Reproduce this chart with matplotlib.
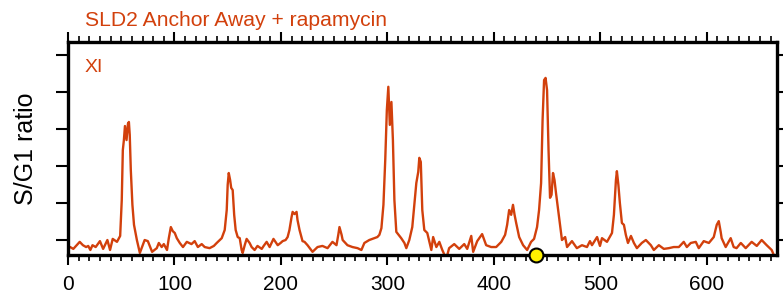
import matplotlib
matplotlib.use("Agg")
import matplotlib.pyplot as plt
from matplotlib.ticker import MultipleLocator

plt.rcParams['font.family'] = ['Liberation Sans', 'DejaVu Sans']

# S/G1 ratio along chromosome XI (position in kb)
pos_kb = [0, 2, 5, 7.5, 11, 14, 17, 19, 21, 23, 26, 30, 33, 37, 39.5, 42, 46, 49,
          50.5, 51.5, 52.5, 53.5, 55, 56.3, 57.2, 58, 59, 60.5, 62, 64.7, 67.5, 72,
          75, 79, 83.4, 85.3, 88, 90, 93, 94.7, 96.6, 98.4, 100.3, 102.2, 105, 108,
          111.6, 116, 119, 122, 125.6, 128.4, 133, 137, 139.7, 144.4, 147.2, 149.1,
          150, 151, 152.3, 153.3, 154.7, 156.1, 157.5, 159.4, 161.3, 163.1, 164.1,
          166, 167.8, 170.6, 172.5, 175.3, 178, 182, 183.8, 186.6, 189.4, 193, 197,
          199.7, 201.6, 204.4, 206.3, 208, 210, 211, 212.8, 214.7, 215.6, 217.5,
          220.3, 222.2, 225, 229.7, 234.4, 239, 243.8, 248.4, 252.2, 254, 255, 257,
          258, 262.5, 267.2, 272, 275.6, 278.4, 283, 287.8, 290.6, 292.5, 294.4,
          296.3, 298, 299.5, 300.9, 302.3, 303.8, 305.2, 306.6, 308.4, 311.3, 313,
          316, 317.8, 320.6, 323.4, 325.3, 327.2, 329, 330, 331.4, 332.8, 334.7,
          337.5, 341.3, 343, 346, 348.8, 351.6, 355.3, 358, 362.8, 367.5, 372.2, 375,
          378.8, 380.6, 384.4, 389, 392.8, 397.5, 402.2, 407, 410.6, 412.5, 414.4,
          416.3, 418, 419.5, 421, 423.8, 427.5, 431.3, 435, 437.8, 440.6, 442.5,
          444.4, 445.8, 447.2, 448.6, 450, 451.4, 452.8, 454.2, 455.6, 457, 458.4,
          459.8, 461.3, 464, 467, 468.8, 473.4, 478, 482.8, 487.5, 490.3, 492.2, 497,
          499.7, 501.6, 506.3, 511, 512.8, 514.7, 515.6, 517, 518.4, 520.3, 522.2,
          524, 526, 528.8, 531.6, 534.4, 539, 542.8, 547.5, 550.3, 555, 559.7, 564.4,
          569, 573.8, 578.4, 581.3, 585, 589.7, 592.5, 597.2, 602, 606.6, 609.4,
          611.3, 613.1, 614, 617.8, 622.5, 625.3, 628, 632, 636.6, 642.2, 647, 651.6,
          656.3, 661, 663.8]

ratio = [0.978, 0.981, 0.976, 0.984, 0.995, 0.986, 0.981, 0.984, 0.973, 0.986, 0.981,
         0.997, 0.976, 1.000, 0.973, 1.003, 0.995, 1.011, 1.108, 1.243, 1.270, 1.308,
         1.270, 1.314, 1.319, 1.284, 1.189, 1.095, 1.041, 1.000, 0.965, 1.000, 0.997,
         0.968, 0.978, 0.992, 0.981, 0.989, 0.973, 1.005, 1.035, 1.024, 1.019, 1.005,
         0.992, 0.981, 0.995, 0.989, 0.997, 0.981, 0.989, 0.981, 0.978, 0.984, 0.992,
         1.005, 1.027, 1.081, 1.149, 1.181, 1.162, 1.141, 1.135, 1.068, 1.027, 1.008,
         1.005, 0.973, 0.965, 0.986, 1.003, 0.992, 0.981, 0.973, 0.984, 0.976, 0.984,
         0.995, 0.981, 1.003, 0.986, 0.992, 0.997, 1.000, 1.008, 1.027, 1.062, 1.076,
         1.070, 1.076, 1.054, 1.027, 0.997, 0.995, 0.986, 0.968, 0.981, 0.984, 0.978,
         0.995, 0.986, 1.016, 1.035, 1.014, 1.000, 0.986, 0.981, 0.978, 0.973, 0.992,
         1.000, 1.005, 1.008, 1.014, 1.032, 1.095, 1.216, 1.351, 1.414, 1.311, 1.373,
         1.270, 1.108, 1.022, 1.011, 1.005, 0.992, 0.978, 1.000, 1.035, 1.095, 1.154,
         1.184, 1.222, 1.211, 1.081, 1.027, 1.019, 0.973, 1.008, 0.981, 0.995, 0.973,
         0.949, 0.978, 0.989, 0.976, 0.989, 0.976, 1.011, 0.968, 0.997, 1.016, 0.986,
         0.981, 0.981, 0.995, 1.014, 1.041, 1.081, 1.068, 1.095, 1.068, 1.046, 1.008,
         0.986, 0.973, 0.995, 1.003, 1.035, 1.081, 1.154, 1.324, 1.432, 1.438, 1.405,
         1.243, 1.114, 1.122, 1.181, 1.162, 1.127, 1.095, 1.062, 1.000, 1.008, 0.981,
         0.997, 0.978, 0.986, 0.981, 0.997, 0.986, 1.008, 0.984, 1.005, 0.995, 1.019,
         1.068, 1.162, 1.186, 1.149, 1.100, 1.046, 1.041, 1.014, 0.992, 1.011, 0.992,
         0.978, 0.992, 1.000, 0.986, 0.973, 0.986, 0.976, 0.978, 0.981, 0.981, 0.995,
         0.981, 0.992, 0.995, 0.978, 0.997, 0.992, 1.008, 1.041, 1.051, 1.022, 1.005,
         0.981, 1.005, 0.981, 0.978, 0.992, 0.978, 0.995, 0.984, 1.000, 0.986, 0.973,
         0.954]

centromere_kb = 440
chrom_len_kb = 666

line_col = '#D2400C'

fig = plt.figure(figsize=(7.83, 3.0), dpi=100)
ax = fig.add_axes([68 / 783, 45 / 300, 709 / 783, 213 / 300])

ax.plot(pos_kb, ratio, color=line_col, lw=1.7)
ax.plot([centromere_kb], [0.9595], 'o', ms=10, mfc='#FFF200', mec='black',
        mew=1.5, clip_on=False, zorder=5)

ax.set_xlim(0, chrom_len_kb)
ax.set_ylim(0.9595, 1.535)

ax.xaxis.set_major_locator(MultipleLocator(100))
ax.xaxis.set_minor_locator(MultipleLocator(10))
ax.set_yticks([1.0, 1.1, 1.2, 1.3, 1.4, 1.5])
ax.tick_params(axis='x', which='major', direction='out', length=7.5, width=1.5,
               top=True, labelsize=15, pad=7)
ax.tick_params(axis='x', which='minor', direction='out', length=4.3, width=1.2,
               top=True)
ax.tick_params(axis='y', which='major', direction='out', length=9, width=1.5,
               right=True, labelleft=False)

for sp in ax.spines.values():
    sp.set_linewidth(2.4)

ax.set_ylabel('S/G1 ratio', fontsize=18)
ax.yaxis.set_label_coords(-30 / 709, 0.5)

ax.text(17 / 709, 0.878, 'XI', color=line_col, fontsize=14, transform=ax.transAxes,
        va='center', ha='left')
fig.text(85 / 783, 1 - 20 / 300, 'SLD2 Anchor Away + rapamycin', color=line_col,
         fontsize=15.2, va='center', ha='left')

fig.savefig('out.png', dpi=100)
